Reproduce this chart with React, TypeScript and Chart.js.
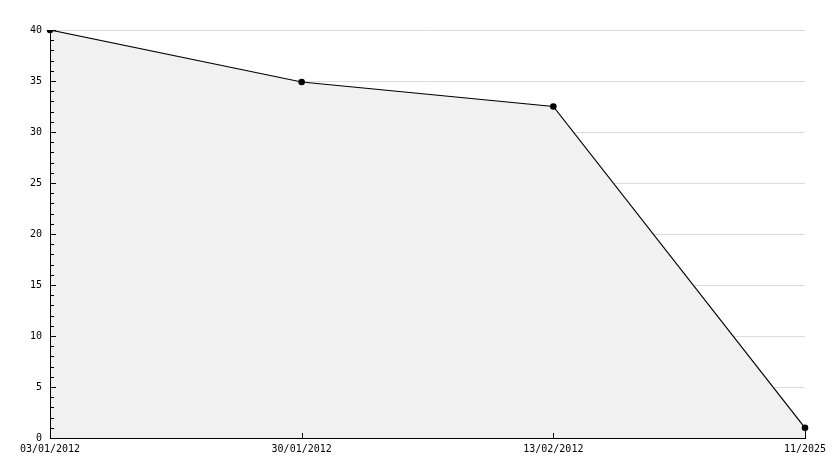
import React, { useEffect, useRef } from "react";
import { Chart, registerables } from "chart.js";

Chart.register(...registerables);

const categories = ["03/01/2012", "30/01/2012", "13/02/2012", "11/2025"];
const values = [40, 34.9, 32.5, 1];
const yMin = 0;
const yMax = 40;
const yStep = 5;

const FONT = "'DejaVu Sans Mono', monospace";

const inwardTicks = {
  id: "inwardTicks",
  afterDatasetsDraw(chart: any) {
    const ctx = chart.ctx;
    const area = chart.chartArea;
    const x = chart.scales.x;
    const y = chart.scales.y;
    const L = Math.round(area.left);
    const R = Math.round(area.right);
    const T = Math.round(area.top);
    const B = Math.round(area.bottom);
    ctx.save();
    ctx.fillStyle = "#000";
    // axis lines
    ctx.fillRect(L, T, 1, B - T + 1);
    ctx.fillRect(L, B, R - L + 1, 1);
    // y ticks (inside, to the right of the axis)
    for (let v = yMin; v <= yMax; v += 1) {
      const py = Math.round(y.getPixelForValue(v));
      const len = v % yStep === 0 ? 6 : 4;
      ctx.fillRect(L, py, len, 1);
    }
    // x ticks (inside, above the axis)
    for (let i = 0; i < categories.length; i++) {
      const px = Math.round(x.getPixelForValue(i));
      ctx.fillRect(px, B - 5, 1, 5);
    }
    const last = values.length - 1;
    const lx = Math.round(x.getPixelForValue(last));
    const ly = Math.round(y.getPixelForValue(values[last]));
    ctx.fillRect(lx, ly, 1, B - ly);
    ctx.restore();
  },
};

export default function App() {
  const ref = useRef<HTMLCanvasElement>(null);
  useEffect(() => {
    if (!ref.current) return;
    const chart = new Chart(ref.current, {
      type: "line",
      data: {
        labels: categories,
        datasets: [
          {
            data: values,
            borderColor: "#000",
            borderWidth: 1.2,
            backgroundColor: "#f1f1f1",
            fill: "start",
            tension: 0,
            pointRadius: 3.3,
            pointBackgroundColor: "#000",
            pointBorderColor: "#000",
            pointBorderWidth: 0,
          },
        ],
      },
      options: {
        animation: false,
        responsive: false,
        maintainAspectRatio: false,
        layout: { padding: { top: 30, right: 29, left: 0, bottom: 0 } },
        plugins: { legend: { display: false }, tooltip: { enabled: false } },
        scales: {
          x: {
            type: "category",
            offset: false,
            grid: { display: false, drawTicks: false },
            border: { display: false },
            ticks: {
              color: "#000",
              font: { family: FONT, size: 10 },
              padding: 5,
              maxRotation: 0,
              autoSkip: false,
            },
            afterFit: (s: any) => {
              s.height = 30;
            },
          },
          y: {
            min: yMin,
            max: yMax,
            grid: { color: "#dddddd", drawTicks: false, lineWidth: 1 },
            border: { display: false },
            ticks: {
              stepSize: yStep,
              color: "#000",
              font: { family: FONT, size: 10 },
              padding: 8,
            },
            afterFit: (s: any) => {
              s.width = 50;
            },
          },
        },
      },
      plugins: [inwardTicks],
    });
    return () => chart.destroy();
  }, []);
  return (
    <div style={{ position: "fixed", left: 0, top: 0, width: 834, height: 468, background: "#fff" }}>
      <canvas ref={ref} width={834} height={468} style={{ width: 834, height: 468 }} />
    </div>
  );
}
